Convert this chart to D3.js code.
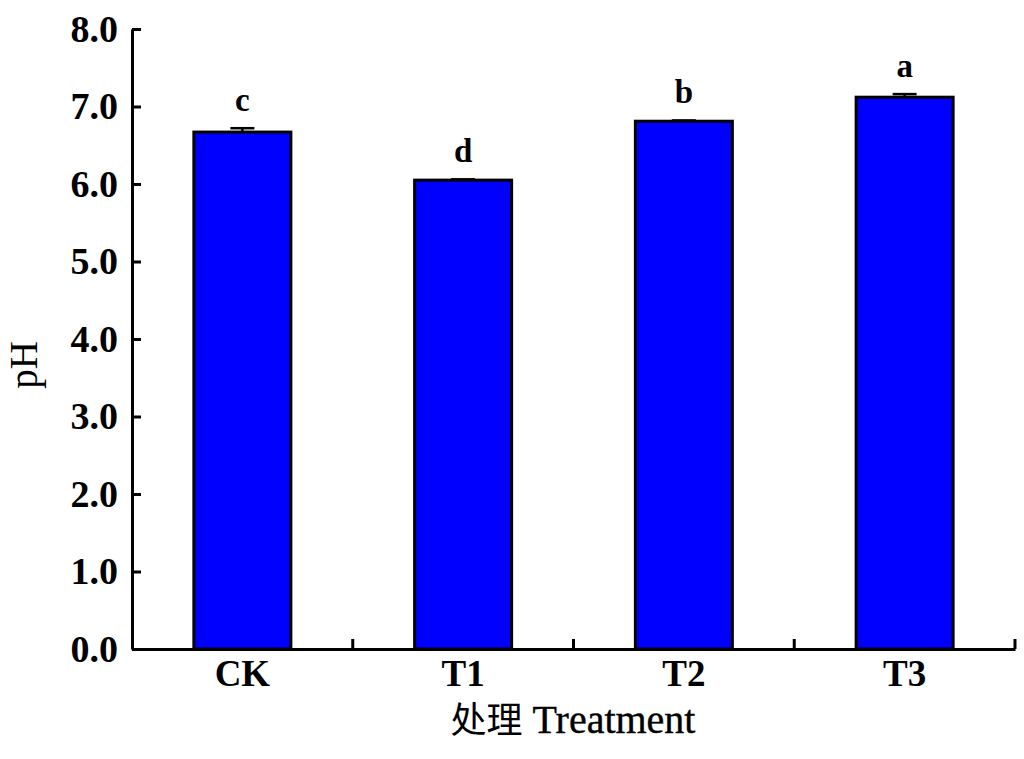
<!DOCTYPE html>
<html><head><meta charset="utf-8">
<script src="https://cdn.jsdelivr.net/npm/d3@7"></script>
<style>body{margin:0;background:#fff}svg{display:block}</style>
</head><body>
<script>
const categories = ["CK", "T1", "T2", "T3"];
const values = [6.67, 6.05, 6.81, 7.12];
const errors = [0.05, 0.01, 0.01, 0.04];
const letters = ["c", "d", "b", "a"];
const yTicks = [0, 1, 2, 3, 4, 5, 6, 7, 8];

const W = 1024, H = 759;
const m = {left: 132, right: 1015, top: 29, bottom: 649};
const svg = d3.select("body").append("svg").attr("width", W).attr("height", H);
const serif = "'Liberation Serif','Times New Roman',serif";

const x = d3.scaleBand().domain(categories).range([m.left, m.right]).paddingInner(0.547).paddingOuter(0.2735);
const y = d3.scaleLinear().domain([0, 8]).range([m.bottom, m.top]);

// bars
svg.selectAll("rect.bar").data(categories).enter().append("rect")
  .attr("x", d => x(d) + 1.5).attr("width", x.bandwidth() - 3)
  .attr("y", (d, i) => y(values[i])).attr("height", (d, i) => y(0) - y(values[i]))
  .attr("fill", "#0000ff").attr("stroke", "#000").attr("stroke-width", 3);

// error bars
const cap = 24;
categories.forEach((d, i) => {
  const cx = x(d) + x.bandwidth() / 2;
  svg.append("line").attr("x1", cx).attr("x2", cx)
    .attr("y1", y(values[i])).attr("y2", y(values[i] + errors[i]))
    .attr("stroke", "#000").attr("stroke-width", 2.5);
  svg.append("line").attr("x1", cx - cap / 2).attr("x2", cx + cap / 2)
    .attr("y1", y(values[i] + errors[i])).attr("y2", y(values[i] + errors[i]))
    .attr("stroke", "#000").attr("stroke-width", 2.5);
  svg.append("text").attr("x", cx).attr("y", y(values[i] + errors[i]) - 17)
    .attr("text-anchor", "middle").attr("font-family", serif).attr("font-weight", "bold")
    .attr("font-size", 33).text(letters[i]);
});

// y axis
const yAxis = svg.append("g").attr("transform", `translate(${m.left},0)`)
  .call(d3.axisLeft(y).tickValues(yTicks).tickFormat(d3.format(".1f")).tickSizeInner(-9).tickSizeOuter(0).tickPadding(14));
yAxis.select(".domain").attr("stroke-width", 3);
yAxis.selectAll(".tick line").attr("stroke-width", 3);
yAxis.selectAll("text").attr("font-family", serif).attr("font-weight", "bold").attr("font-size", 38).attr("fill", "#000");

// x axis
const xAxis = svg.append("g").attr("transform", `translate(0,${m.bottom})`)
  .call(d3.axisBottom(x).tickSize(0).tickPadding(11));
xAxis.select(".domain").attr("stroke-width", 3);
xAxis.selectAll("text").attr("font-family", serif).attr("font-weight", "bold").attr("font-size", 37).attr("fill", "#000").attr("dy", "0.71em");
// boundary ticks between categories (inward)
const bounds = d3.range(1, categories.length + 1).map(k => m.left + k * (m.right - m.left) / categories.length);
xAxis.selectAll("line.bt").data(bounds).enter().append("line").attr("class", "bt")
  .attr("x1", d => d).attr("x2", d => d).attr("y1", 0).attr("y2", -10)
  .attr("stroke", "#000").attr("stroke-width", 3);

// axis titles
svg.append("text").attr("transform", `translate(37,365) rotate(-90)`)
  .attr("text-anchor", "middle").attr("font-family", serif).attr("font-size", 39).text("pH");
svg.append("text").attr("x", 573).attr("y", 733).attr("text-anchor", "middle")
  .attr("font-family", serif).attr("font-size", 40).attr("stroke", "#000").attr("stroke-width", 0.4)
  .html("<tspan font-family=\"'Noto Sans CJK SC'\" font-size='36' stroke-width='0'>处理</tspan> Treatment");
</script>
</body></html>
